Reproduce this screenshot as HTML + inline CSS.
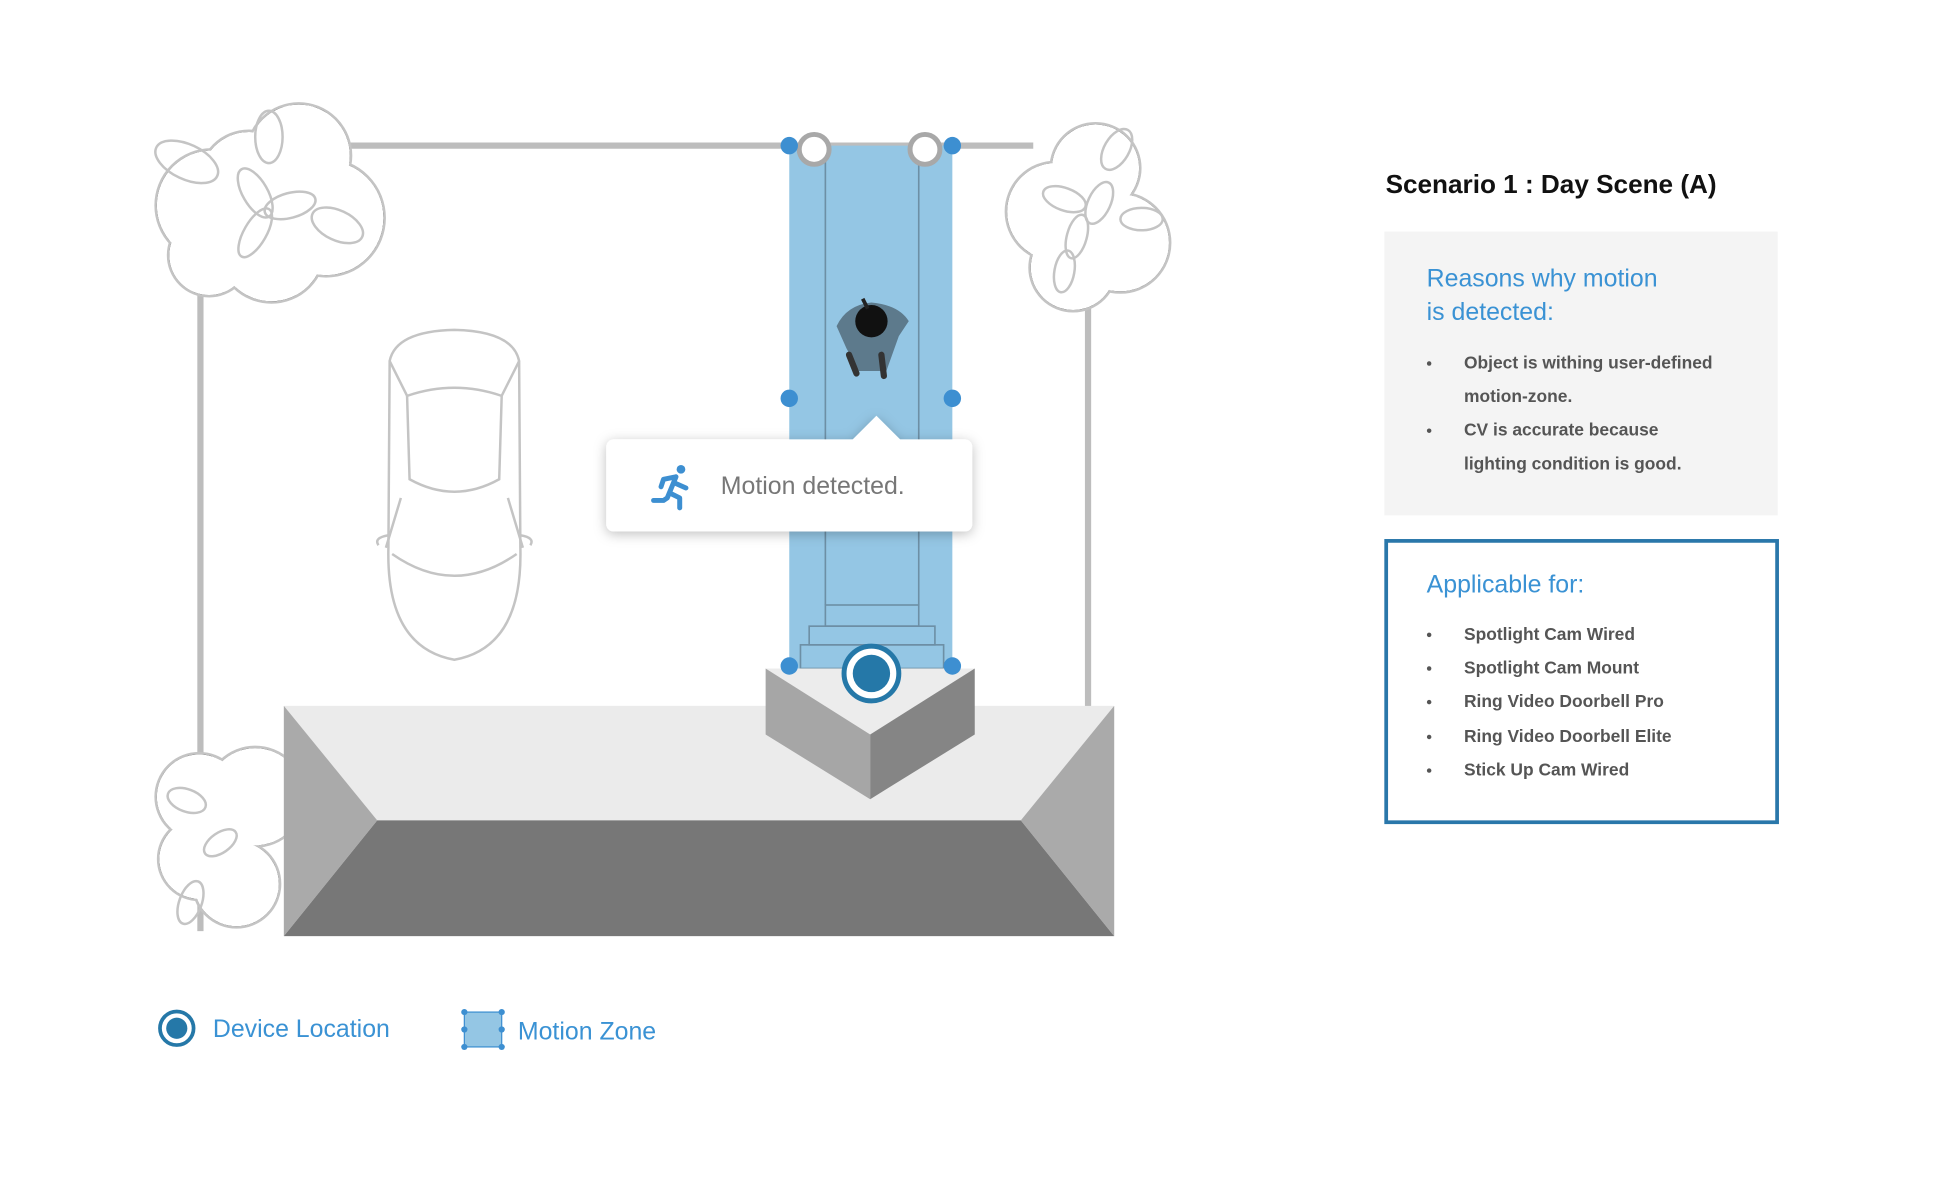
<!DOCTYPE html>
<html><head><meta charset="utf-8"><style>
html,body{margin:0;padding:0;background:#fff;width:1952px;height:1181px;overflow:hidden}
svg{display:block}
text{font-family:"Liberation Sans",sans-serif}
</style></head><body>
<svg width="1952" height="1181" viewBox="0 0 1568 948.7" preserveAspectRatio="none" xmlns="http://www.w3.org/2000/svg">
<defs>
<filter id="sh" x="-20%" y="-30%" width="140%" height="170%"><feDropShadow dx="0" dy="2" stdDeviation="5" flood-color="#000" flood-opacity="0.25"/></filter>
</defs>
<!-- fence -->
<g stroke="#bdbdbd" stroke-width="5" fill="none">
<line x1="280" y1="117" x2="830" y2="117"/>
<line x1="161" y1="230" x2="161" y2="748"/>
<line x1="874" y1="240" x2="874" y2="570"/>
</g>
<!-- trees -->
<g stroke="#c4c4c4" stroke-width="2">
 <g>
  <circle cx="170" cy="165" r="45"/><circle cx="240" cy="125" r="42"/><circle cx="262" cy="175" r="47"/><circle cx="218" cy="200" r="43"/><circle cx="168" cy="205" r="33"/><circle cx="200" cy="145" r="40"/>
 </g>
 <g stroke="none" fill="#fff">
  <circle cx="170" cy="165" r="44"/><circle cx="240" cy="125" r="41"/><circle cx="262" cy="175" r="46"/><circle cx="218" cy="200" r="42"/><circle cx="168" cy="205" r="32"/><circle cx="200" cy="145" r="39"/>
 </g>
 <g fill="none">
  <ellipse cx="150" cy="130" rx="27" ry="14" transform="rotate(25 150 130)"/>
  <ellipse cx="216" cy="110" rx="11" ry="21"/>
  <ellipse cx="205" cy="155" rx="10" ry="22" transform="rotate(-30 205 155)"/>
  <ellipse cx="233" cy="165" rx="21" ry="10" transform="rotate(-15 233 165)"/>
  <ellipse cx="205" cy="187" rx="9" ry="22" transform="rotate(30 205 187)"/>
  <ellipse cx="271" cy="181" rx="22" ry="12" transform="rotate(25 271 181)"/>
 </g>
 <g>
  <circle cx="848" cy="170" r="40"/><circle cx="880" cy="135" r="36"/><circle cx="900" cy="195" r="40"/><circle cx="862" cy="215" r="35"/>
 </g>
 <g stroke="none" fill="#fff">
  <circle cx="848" cy="170" r="39"/><circle cx="880" cy="135" r="35"/><circle cx="900" cy="195" r="39"/><circle cx="862" cy="215" r="34"/>
 </g>
 <g fill="none">
  <ellipse cx="897" cy="120" rx="10" ry="18" transform="rotate(30 897 120)"/>
  <ellipse cx="855" cy="160" rx="18" ry="9" transform="rotate(20 855 160)"/>
  <ellipse cx="883" cy="163" rx="9" ry="18" transform="rotate(25 883 163)"/>
  <ellipse cx="865" cy="190" rx="8" ry="18" transform="rotate(15 865 190)"/>
  <ellipse cx="917" cy="176" rx="17" ry="9"/>
  <ellipse cx="855" cy="218" rx="8" ry="17" transform="rotate(10 855 218)"/>
 </g>
 <g>
  <circle cx="160" cy="640" r="35"/><circle cx="205" cy="640" r="40"/><circle cx="160" cy="690" r="33"/><circle cx="190" cy="710" r="35"/>
 </g>
 <g stroke="none" fill="#fff">
  <circle cx="160" cy="640" r="34"/><circle cx="205" cy="640" r="39"/><circle cx="160" cy="690" r="32"/><circle cx="190" cy="710" r="34"/>
 </g>
 <g fill="none">
  <ellipse cx="150" cy="643" rx="16" ry="9" transform="rotate(20 150 643)"/>
  <ellipse cx="177" cy="677" rx="15" ry="8" transform="rotate(-35 177 677)"/>
  <ellipse cx="153" cy="725" rx="9" ry="18" transform="rotate(20 153 725)"/>
 </g>
</g>
<!-- car -->
<g stroke="#c4c4c4" stroke-width="2" fill="#fff">
 <path d="M313 290 Q318 266 365 265 Q412 266 417 290 L418 440 Q420 520 365 530 Q310 520 312 440 Z"/>
 <path d="M327 318 Q365 305 403 318 L401 385 Q365 405 329 385 Z" fill="none"/>
 <path d="M313 290 L327 318 M417 290 L403 318 M322 400 L310 440 M408 400 L420 440" fill="none"/>
 <path d="M312 430 Q300 432 304 438 M418 430 Q430 432 426 438" fill="none"/>
 <path d="M315 445 Q365 480 415 445" fill="none"/>
</g>
<!-- ground -->
<polygon points="228,567 895,567 895,752 228,752" fill="#ebebeb"/>
<polygon points="303,659 820,659 895,752 228,752" fill="#777"/>
<polygon points="228,567 303,659 228,752" fill="#aaa"/>
<polygon points="895,567 820,659 895,752" fill="#aaa"/>
<!-- motion zone -->
<rect x="634" y="117" width="131" height="420" fill="#94c6e4"/>
<g stroke="#6d8fa5" stroke-width="1.3" fill="none">
 <line x1="663" y1="120" x2="663" y2="486"/><line x1="738" y1="120" x2="738" y2="486"/>
 <rect x="663" y="486" width="75" height="17"/>
 <rect x="650" y="503" width="101" height="15"/>
 <rect x="643" y="518" width="115" height="19"/>
</g>
<!-- step -->
<polygon points="615,537 783,537 699,590" fill="#ececec"/>
<polygon points="615,537 699,590 699,642 615,590" fill="#a6a6a6"/>
<polygon points="699,590 783,537 783,590 699,642" fill="#858585"/>
<!-- person -->
<g>
 <path d="M672 262 Q680 245 700 243 Q722 245 730 258 L722 270 L712 298 L690 298 L680 280 Z" fill="#5d7a8c"/>
 <path d="M682 285 L688 300 M708 285 L710 302" stroke="#333" stroke-width="5" stroke-linecap="round"/>
 <circle cx="700" cy="258" r="13" fill="#111"/>
 <path d="M693 240 L697 248" stroke="#222" stroke-width="3"/>
</g>
<!-- rings -->
<g stroke="#a8a8a8" stroke-width="4" fill="#fff"><circle cx="654" cy="120" r="12"/><circle cx="743" cy="120" r="12"/></g>
<g fill="#3d8fd1">
 <circle cx="634" cy="117" r="7"/><circle cx="765" cy="117" r="7"/><circle cx="634" cy="320" r="7"/><circle cx="765" cy="320" r="7"/><circle cx="634" cy="535" r="7"/><circle cx="765" cy="535" r="7"/>
</g>
<circle cx="700" cy="541" r="22" fill="#fff" stroke="#2578a8" stroke-width="4"/>
<circle cx="700" cy="541" r="15" fill="#2578a8"/>
<!-- popup -->
<g filter="url(#sh)">
 <rect x="487" y="353" width="294" height="74" rx="6" fill="#fff"/>
 <polygon points="684,354 704,334 724,354" fill="#fff"/>
</g>
<g fill="#3d8fd1" stroke="#3d8fd1" stroke-linecap="round" stroke-linejoin="round">
 <circle cx="547" cy="377" r="3.5" stroke="none"/>
 <path d="M543 383 L536 400 M543 383 L533 385 L531 391 M542 388 L551 392 M538 396 L546 400 L546 408 M536 400 L533 402 L525 402" stroke-width="4" fill="none"/>
</g>
<text x="579" y="397" font-size="20" fill="#777">Motion detected.</text>
<!-- right panel -->
<text x="1113" y="155" font-size="21" font-weight="bold" fill="#111">Scenario 1 : Day Scene  (A)</text>
<rect x="1112" y="186" width="316" height="228" fill="#f4f4f4"/>
<g font-size="20" fill="#3a92d4"><text x="1146" y="230">Reasons why motion</text><text x="1146" y="257">is detected:</text></g>
<g font-size="14" fill="#555" font-weight="bold">
 <text x="1176" y="296">Object is withing user-defined</text>
 <text x="1176" y="323">motion-zone.</text>
 <text x="1176" y="350">CV is accurate because</text>
 <text x="1176" y="377">lighting condition is good.</text>
</g>
<g fill="#555"><circle cx="1148" cy="292" r="1.8"/><circle cx="1148" cy="346" r="1.8"/></g>
<rect x="1113.5" y="434.5" width="314" height="226" fill="none" stroke="#2a77aa" stroke-width="3"/>
<text x="1146" y="476" font-size="20" fill="#3a92d4">Applicable for:</text>
<g font-size="14" fill="#555" font-weight="bold">
 <text x="1176" y="514">Spotlight Cam Wired</text>
 <text x="1176" y="541">Spotlight Cam Mount</text>
 <text x="1176" y="568">Ring Video Doorbell Pro</text>
 <text x="1176" y="596">Ring Video Doorbell Elite</text>
 <text x="1176" y="623">Stick Up Cam Wired</text>
</g>
<g fill="#555"><circle cx="1148" cy="510" r="1.8"/><circle cx="1148" cy="537" r="1.8"/><circle cx="1148" cy="564" r="1.8"/><circle cx="1148" cy="592" r="1.8"/><circle cx="1148" cy="619" r="1.8"/></g>
<!-- legend -->
<circle cx="142" cy="826" r="13.5" fill="#fff" stroke="#2578a8" stroke-width="3"/>
<circle cx="142" cy="826" r="8.5" fill="#2578a8"/>
<text x="171" y="833" font-size="20" fill="#3a92d4">Device Location</text>
<rect x="373" y="813" width="30" height="28" fill="#94c6e4" stroke="#3d8fd1" stroke-width="1"/>
<g fill="#3d8fd1"><circle cx="373" cy="813" r="2.5"/><circle cx="403" cy="813" r="2.5"/><circle cx="373" cy="841" r="2.5"/><circle cx="403" cy="841" r="2.5"/><circle cx="373" cy="827" r="2.5"/><circle cx="403" cy="827" r="2.5"/></g>
<text x="416" y="835" font-size="20" fill="#3a92d4">Motion Zone</text>
</svg>
</body></html>
